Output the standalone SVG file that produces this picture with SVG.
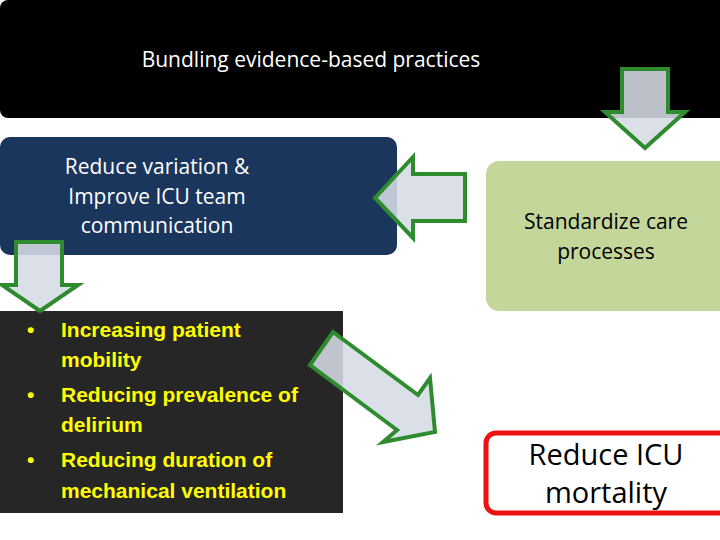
<svg xmlns="http://www.w3.org/2000/svg" width="720" height="540" viewBox="0 0 720 540">
<style>
text{font-family:"Open Sans","Liberation Sans",sans-serif;text-anchor:middle}
.w{fill:#fff;font-size:21px}
.k{fill:#000;font-size:21px}
.y{fill:#ffff00;font-size:21px;font-weight:bold;text-anchor:start;font-family:"Liberation Sans",sans-serif}
.arr{fill:#d6dce5;fill-opacity:0.88;stroke:#2e8b2e;stroke-width:4;stroke-linejoin:miter}
</style>
<rect width="720" height="540" fill="#fff"/>
<g id="top"><rect x="0" y="0" width="730" height="118" rx="8" fill="#000"/>
<text class="w" x="311" y="67">Bundling evidence-based practices</text></g>
<g id="blue"><rect x="0" y="137" width="397" height="118" rx="10" fill="#1b365d"/>
<text class="w" x="157" y="174">Reduce variation &amp;</text>
<text class="w" x="157" y="204">Improve ICU team</text>
<text class="w" x="157" y="233">communication</text></g>
<g id="green"><rect x="486" y="161" width="250" height="150" rx="13" fill="#c4d79b"/>
<text class="k" x="606" y="229">Standardize care</text>
<text class="k" x="606" y="259">processes</text></g>
<g id="list"><rect x="0" y="311" width="343" height="202" fill="#262626"/>
<g class="y">
<text class="y" x="27" y="337">•</text><text class="y" x="61" y="337">Increasing patient</text>
<text class="y" x="61" y="367">mobility</text>
<text class="y" x="27" y="402">•</text><text class="y" x="61" y="402">Reducing prevalence of</text>
<text class="y" x="61" y="432">delirium</text>
<text class="y" x="27" y="467">•</text><text class="y" x="61" y="467">Reducing duration of</text>
<text class="y" x="61" y="498">mechanical ventilation</text></g></g>
<g id="red"><rect x="486" y="433" width="250" height="80" rx="10" fill="#fff" stroke="#ee1111" stroke-width="5"/>
<text class="k" style="font-size:29px" x="606" y="465">Reduce ICU</text>
<text class="k" style="font-size:29px" x="606" y="503">mortality</text></g>
<g id="connectors">
<path class="arr" d="M622,69 H668 V112 H685 L645,148 L605,112 H622 Z"/>
<path class="arr" d="M465,174 V221 H413 V238 L375,198 L413,157 V174 Z"/>
<path class="arr" d="M16,242 H62 V285 H78 L40,311 L2,285 H16 Z"/>
<path class="arr" d="M333,332 L418,395 L430,378 L435,432 L383,442 L397,430 L310,365 Z"/>
</g>
</svg>
